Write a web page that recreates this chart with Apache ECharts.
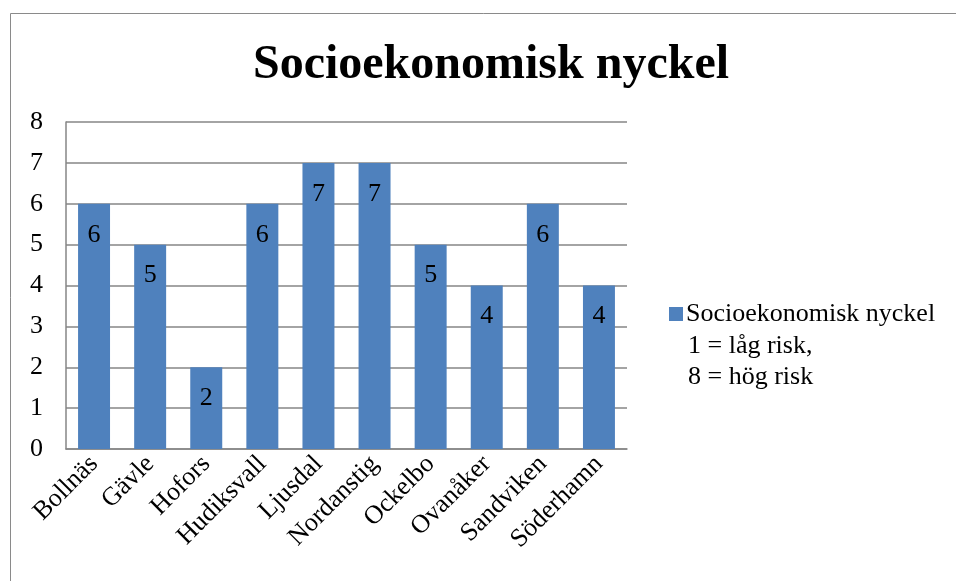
<!DOCTYPE html>
<html><head><meta charset="utf-8">
<script src="https://cdn.jsdelivr.net/npm/echarts@6/dist/echarts.min.js"></script>
<style>html,body{margin:0;padding:0;background:#fff}#c{width:956px;height:581px}</style>
</head><body><div id="c"></div>
<script>
const categories = ["Bollnäs","Gävle","Hofors","Hudiksvall","Ljusdal","Nordanstig","Ockelbo","Ovanåker","Sandviken","Söderhamn"];
const values = [6,5,2,6,7,7,5,4,6,4];
const seriesName = "Socioekonomisk nyckel";
const legendExtra = ["1 = låg risk,", "8 = hög risk"];
const titleText = "Socioekonomisk nyckel";
const FONT = "Liberation Serif, Times New Roman, serif";

const chart = echarts.init(document.getElementById('c'));
chart.setOption({
  animation: false,
  backgroundColor: '#fff',
  title: {
    text: titleText, left: 486, top: 37, textAlign: 'center',
    textStyle: {fontFamily: FONT, fontSize: 48, fontWeight: 'bold', color: '#000'}
  },
  grid: {left: 66, top: 122, width: 561, height: 327, containLabel: false},
  legend: {
    left: 664, top: 296, itemWidth: 14, itemHeight: 14, itemGap: 0,
    icon: 'rect',
    textStyle: {fontFamily: FONT, fontSize: 26, color: '#000', padding: [0,0,0,-2]},
    data: [seriesName]
  },
  graphic: [
    {type: 'rect', shape: {x: 10.5, y: 13.5, width: 1000, height: 1000},
     style: {fill: 'none', stroke: '#8a8a8a', lineWidth: 1}, silent: true, z: -1},
    {type: 'text', left: 688, top: 331,
     style: {text: legendExtra.join('\n'), font: '26px ' + FONT, fill: '#000', lineHeight: 31}}
  ],
  xAxis: {
    type: 'category', data: categories,
    axisLine: {show: true, lineStyle: {color: '#868686', width: 1.5}},
    axisTick: {show: false},
    axisLabel: {rotate: 45, margin: 11, fontFamily: FONT, fontSize: 26, color: '#000', interval: 0}
  },
  yAxis: {
    type: 'value', min: 0, max: 8, interval: 1,
    axisLine: {show: true, lineStyle: {color: '#868686', width: 1.5}},
    axisTick: {show: false},
    splitLine: {lineStyle: {color: '#868686', width: 1.5}},
    axisLabel: {margin: 23, fontFamily: FONT, fontSize: 26, color: '#000'}
  },
  series: [{
    name: seriesName, type: 'bar', data: values,
    barWidth: '57%',
    itemStyle: {color: '#4F81BD'},
    label: {show: true, position: 'insideTop', distance: 18,
      fontFamily: FONT, fontSize: 26, color: '#000'}
  }]
});
</script></body></html>
